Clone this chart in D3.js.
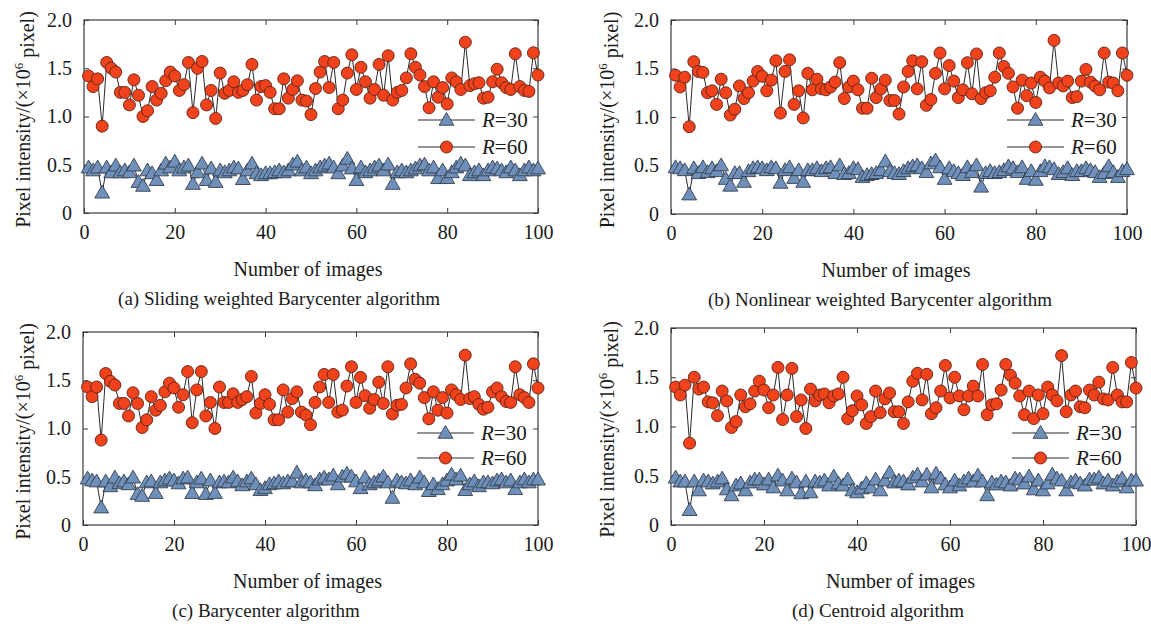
<!DOCTYPE html>
<html><head><meta charset="utf-8">
<script src="https://cdn.jsdelivr.net/npm/d3@7"></script>
<style>html,body{margin:0;padding:0;background:#fff;}svg{display:block;}</style>
</head><body>
<svg id="chart" width="1151" height="628"></svg>
<script>
// ---- data ----
const xTicks = [0, 20, 40, 60, 80, 100];
const yTicks = [0, 0.5, 1.0, 1.5, 2.0];
const seriesNames = ["R=30", "R=60"];
const captions = ["(a) Sliding weighted Barycenter algorithm", "(b) Nonlinear weighted Barycenter algorithm", "(c) Barycenter algorithm", "(d) Centroid algorithm"];
const xLabel = "Number of images";

const a30 = [0.47,0.44,0.47,0.21,0.47,0.42,0.49,0.42,0.44,0.42, 0.49,0.32,0.28,0.44,0.41,0.34,0.44,0.51,0.47,0.53, 0.44,0.47,0.49,0.30,0.42,0.51,0.34,0.46,0.32,0.44, 0.42,0.44,0.47,0.46,0.35,0.44,0.51,0.41,0.39,0.41, 0.41,0.42,0.44,0.42,0.44,0.50,0.53,0.44,0.47,0.41, 0.44,0.47,0.49,0.51,0.47,0.41,0.49,0.56,0.46,0.34, 0.47,0.42,0.44,0.47,0.49,0.44,0.50,0.30,0.42,0.44, 0.42,0.44,0.46,0.49,0.50,0.44,0.47,0.36,0.44,0.36, 0.42,0.47,0.51,0.49,0.39,0.42,0.44,0.39,0.44,0.47, 0.46,0.44,0.42,0.47,0.44,0.39,0.44,0.47,0.44,0.46];
const a60 = [1.42,1.31,1.39,0.90,1.56,1.50,1.46,1.25,1.25,1.12, 1.38,1.22,1.00,1.06,1.31,1.17,1.24,1.37,1.46,1.42, 1.27,1.33,1.56,1.04,1.50,1.57,1.12,1.27,0.98,1.45, 1.24,1.27,1.36,1.25,1.27,1.33,1.54,1.17,1.31,1.32, 1.25,1.08,1.08,1.39,1.19,1.28,1.37,1.17,1.16,1.02, 1.29,1.46,1.57,1.30,1.56,1.08,1.17,1.45,1.64,1.28, 1.51,1.36,1.19,1.28,1.54,1.22,1.63,1.17,1.25,1.27, 1.40,1.65,1.51,1.43,1.31,1.09,1.36,1.20,1.30,1.13, 1.40,1.36,1.28,1.77,1.32,1.34,1.35,1.19,1.20,1.36, 1.49,1.35,1.30,1.28,1.65,1.31,1.27,1.26,1.66,1.43];
const b30 = [0.48,0.47,0.45,0.20,0.47,0.42,0.48,0.43,0.47,0.44, 0.50,0.36,0.29,0.42,0.42,0.33,0.44,0.47,0.48,0.47, 0.45,0.48,0.47,0.32,0.45,0.48,0.37,0.45,0.33,0.45, 0.45,0.47,0.44,0.47,0.48,0.42,0.50,0.41,0.42,0.47, 0.46,0.38,0.40,0.41,0.42,0.45,0.54,0.44,0.42,0.41, 0.44,0.47,0.49,0.50,0.47,0.43,0.52,0.55,0.48,0.36, 0.47,0.44,0.42,0.40,0.48,0.43,0.50,0.28,0.42,0.44, 0.42,0.43,0.45,0.49,0.47,0.43,0.48,0.36,0.44,0.35, 0.44,0.49,0.48,0.46,0.41,0.43,0.47,0.40,0.44,0.44, 0.47,0.45,0.43,0.38,0.42,0.49,0.43,0.38,0.44,0.46];
const b60 = [1.43,1.31,1.41,0.90,1.57,1.47,1.46,1.25,1.27,1.13, 1.39,1.25,1.02,1.08,1.32,1.19,1.25,1.37,1.47,1.42, 1.27,1.38,1.58,1.04,1.47,1.59,1.13,1.27,0.99,1.45, 1.28,1.39,1.29,1.28,1.31,1.36,1.56,1.19,1.31,1.37, 1.28,1.09,1.09,1.40,1.20,1.29,1.38,1.17,1.17,1.03, 1.31,1.47,1.58,1.29,1.57,1.12,1.18,1.45,1.66,1.29, 1.53,1.37,1.20,1.28,1.56,1.24,1.65,1.19,1.25,1.27, 1.41,1.66,1.52,1.45,1.31,1.09,1.38,1.22,1.35,1.15, 1.41,1.37,1.30,1.79,1.35,1.32,1.37,1.20,1.21,1.37, 1.49,1.36,1.32,1.28,1.66,1.36,1.35,1.27,1.66,1.43];
const c30 = [0.48,0.46,0.45,0.18,0.45,0.40,0.49,0.43,0.45,0.42, 0.49,0.32,0.30,0.44,0.45,0.33,0.44,0.46,0.48,0.46, 0.43,0.48,0.49,0.33,0.44,0.48,0.32,0.46,0.33,0.44, 0.45,0.44,0.49,0.45,0.41,0.45,0.48,0.42,0.36,0.38, 0.42,0.43,0.45,0.43,0.45,0.45,0.54,0.44,0.46,0.44, 0.41,0.47,0.49,0.47,0.51,0.42,0.50,0.53,0.50,0.45, 0.38,0.49,0.42,0.44,0.46,0.50,0.44,0.28,0.46,0.44, 0.43,0.46,0.42,0.49,0.44,0.35,0.42,0.37,0.42,0.46, 0.52,0.47,0.51,0.36,0.42,0.45,0.40,0.44,0.44,0.43, 0.46,0.47,0.44,0.46,0.37,0.44,0.47,0.44,0.47,0.47];
const c60 = [1.43,1.33,1.43,0.88,1.57,1.49,1.45,1.26,1.26,1.13, 1.37,1.26,1.01,1.09,1.33,1.19,1.24,1.38,1.47,1.42, 1.22,1.35,1.59,1.06,1.40,1.59,1.13,1.27,1.00,1.43, 1.27,1.27,1.36,1.27,1.30,1.33,1.54,1.16,1.26,1.35, 1.25,1.09,1.09,1.40,1.17,1.31,1.38,1.17,1.14,1.04, 1.27,1.43,1.56,1.27,1.56,1.17,1.19,1.44,1.64,1.27, 1.53,1.34,1.21,1.30,1.48,1.26,1.64,1.15,1.24,1.25, 1.42,1.67,1.51,1.47,1.32,1.10,1.38,1.19,1.32,1.16, 1.40,1.35,1.30,1.76,1.31,1.33,1.25,1.20,1.22,1.38, 1.42,1.33,1.28,1.27,1.64,1.35,1.32,1.27,1.67,1.42];
const d30 = [0.48,0.44,0.44,0.15,0.44,0.35,0.45,0.44,0.42,0.44, 0.47,0.36,0.30,0.40,0.42,0.35,0.43,0.46,0.46,0.41, 0.46,0.38,0.50,0.45,0.35,0.47,0.43,0.32,0.44,0.33, 0.44,0.43,0.45,0.40,0.49,0.42,0.40,0.46,0.35,0.33, 0.37,0.42,0.38,0.46,0.35,0.45,0.53,0.43,0.45,0.44, 0.41,0.48,0.51,0.44,0.51,0.38,0.52,0.47,0.41,0.38, 0.45,0.40,0.44,0.47,0.44,0.50,0.44,0.30,0.43,0.41, 0.44,0.43,0.40,0.47,0.46,0.42,0.49,0.36,0.45,0.35, 0.42,0.51,0.47,0.45,0.35,0.43,0.45,0.42,0.40,0.46, 0.46,0.48,0.42,0.45,0.40,0.44,0.47,0.38,0.45,0.45];
const d60 = [1.40,1.32,1.42,0.83,1.50,1.38,1.40,1.25,1.24,1.11, 1.36,1.26,0.99,1.05,1.32,1.20,1.23,1.36,1.46,1.37, 1.19,1.32,1.60,1.07,1.32,1.59,1.10,1.27,0.98,1.38, 1.26,1.32,1.33,1.24,1.31,1.33,1.50,1.08,1.16,1.31, 1.22,1.03,1.10,1.36,1.14,1.28,1.34,1.15,1.15,1.03, 1.25,1.46,1.54,1.27,1.53,1.13,1.19,1.36,1.62,1.29, 1.50,1.31,1.17,1.31,1.41,1.31,1.63,1.12,1.22,1.23, 1.37,1.63,1.52,1.44,1.31,1.12,1.36,1.08,1.32,1.13, 1.40,1.32,1.26,1.72,1.15,1.32,1.36,1.20,1.19,1.37, 1.32,1.45,1.28,1.27,1.60,1.32,1.25,1.25,1.65,1.39];

// ---- layout ----
const panels = [
  {r30: a30, r60: a60, cap: captions[0], L: 84,  R: 538,  T: 20,  B: 213, capX: 279, ylx: 23,  legX: 418, legY: 120, legDy: 27},
  {r30: b30, r60: b60, cap: captions[1], L: 671, R: 1127, T: 20,  B: 214, capX: 880, ylx: 607, legX: 1007, legY: 120, legDy: 27},
  {r30: c30, r60: c60, cap: captions[2], L: 83,  R: 538,  T: 332, B: 525, capX: 266, ylx: 23,  legX: 417, legY: 433, legDy: 25},
  {r30: d30, r60: d60, cap: captions[3], L: 671, R: 1136, T: 328, B: 525, capX: 878, ylx: 607, legX: 1012, legY: 433, legDy: 25}
];

const FONT = "'Liberation Serif','Times New Roman',serif";
const redFill = "#f2421c", redStroke = "#5b2418";
const blueFill = "#6f90ba", blueStroke = "#34404e";
const lineCol = "#2a2a2a", axisCol = "#3a3a3a", textCol = "#1a1a1a";

const svg = d3.select("#chart");
const tri = d3.symbol().type(d3.symbolTriangle).size(95);

panels.forEach(p => {
  const x = d3.scaleLinear().domain([0, 100]).range([p.L, p.R]);
  const y = d3.scaleLinear().domain([0, 2]).range([p.B, p.T]);
  const g = svg.append("g");
  const idx = d3.range(1, p.r30.length + 1);

  // axes box
  g.append("rect").attr("x", p.L).attr("y", p.T).attr("width", p.R - p.L).attr("height", p.B - p.T)
    .attr("fill", "none").attr("stroke", axisCol).attr("stroke-width", 1.2);

  // bottom axis (inward ticks)
  const xb = g.append("g").attr("transform", `translate(0,${p.B})`)
    .call(d3.axisBottom(x).tickValues(xTicks).tickSize(-5).tickPadding(12).tickFormat(d3.format("d")));
  const xt = g.append("g").attr("transform", `translate(0,${p.T})`)
    .call(d3.axisTop(x).tickValues(xTicks).tickSize(-5).tickFormat(""));
  const yl = g.append("g").attr("transform", `translate(${p.L},0)`)
    .call(d3.axisLeft(y).tickValues(yTicks).tickSize(-5).tickPadding(12).tickFormat(d => d === 0 ? "0" : d3.format(".1f")(d)));
  const yr = g.append("g").attr("transform", `translate(${p.R},0)`)
    .call(d3.axisRight(y).tickValues(yTicks).tickSize(-5).tickFormat(""));
  [xb, xt, yl, yr].forEach(a => {
    a.select(".domain").remove();
    a.selectAll(".tick line").attr("stroke", axisCol);
    a.selectAll("text").attr("font-family", FONT).attr("font-size", 20).attr("fill", textCol);
  });
  xb.selectAll("text").attr("dy", "0.71em");

  // series
  const line = d3.line().x((d, i) => x(idx[i])).y(d => y(d));
  g.append("path").datum(p.r30).attr("d", line).attr("fill", "none").attr("stroke", lineCol).attr("stroke-width", 1);
  g.append("path").datum(p.r60).attr("d", line).attr("fill", "none").attr("stroke", lineCol).attr("stroke-width", 1);

  g.append("g").selectAll("path").data(p.r30).join("path")
    .attr("d", tri).attr("transform", (d, i) => `translate(${x(idx[i])},${y(d) + 1})`)
    .attr("fill", blueFill).attr("stroke", blueStroke).attr("stroke-width", 0.9);
  g.append("g").selectAll("circle").data(p.r60).join("circle")
    .attr("cx", (d, i) => x(idx[i])).attr("cy", d => y(d)).attr("r", 6)
    .attr("fill", redFill).attr("stroke", redStroke).attr("stroke-width", 0.9);

  // legend
  seriesNames.forEach((name, k) => {
    const ly = p.legY + k * p.legDy;
    g.append("line").attr("x1", p.legX).attr("x2", p.legX + 57).attr("y1", ly).attr("y2", ly)
      .attr("stroke", lineCol).attr("stroke-width", 1.2);
    if (k === 0) {
      g.append("path").attr("d", tri).attr("transform", `translate(${p.legX + 28.5},${ly + 1})`)
        .attr("fill", blueFill).attr("stroke", blueStroke).attr("stroke-width", 0.9);
    } else {
      g.append("circle").attr("cx", p.legX + 28.5).attr("cy", ly).attr("r", 6)
        .attr("fill", redFill).attr("stroke", redStroke).attr("stroke-width", 0.9);
    }
    const t = g.append("text").attr("x", p.legX + 64).attr("y", ly).attr("dy", "0.35em")
      .attr("font-family", FONT).attr("font-size", 21).attr("fill", textCol);
    t.append("tspan").attr("font-style", "italic").text(name.split("=")[0]);
    t.append("tspan").text("=" + name.split("=")[1]);
  });

  // y label
  const cy = (p.T + p.B) / 2 + 3;
  const ylab = g.append("text").attr("transform", `translate(${p.ylx},${cy}) rotate(-90)`)
    .attr("text-anchor", "middle").attr("dy", "0.35em")
    .attr("font-family", FONT).attr("font-size", 20).attr("fill", textCol);
  ylab.append("tspan").text("Pixel intensity/(\u00d710");
  ylab.append("tspan").attr("font-size", 13).attr("dy", "-0.55em").text("6");
  ylab.append("tspan").attr("dy", "0.55em").text(" pixel)");

  // x label and caption
  g.append("text").attr("x", (p.L + p.R) / 2 - 3).attr("y", p.B + 63)
    .attr("text-anchor", "middle").attr("font-family", FONT).attr("font-size", 20).attr("fill", textCol).text(xLabel);
  g.append("text").attr("x", p.capX).attr("y", p.B + 92)
    .attr("text-anchor", "middle").attr("font-family", FONT).attr("font-size", 19).attr("fill", textCol).text(p.cap);
});
</script>
</body></html>
